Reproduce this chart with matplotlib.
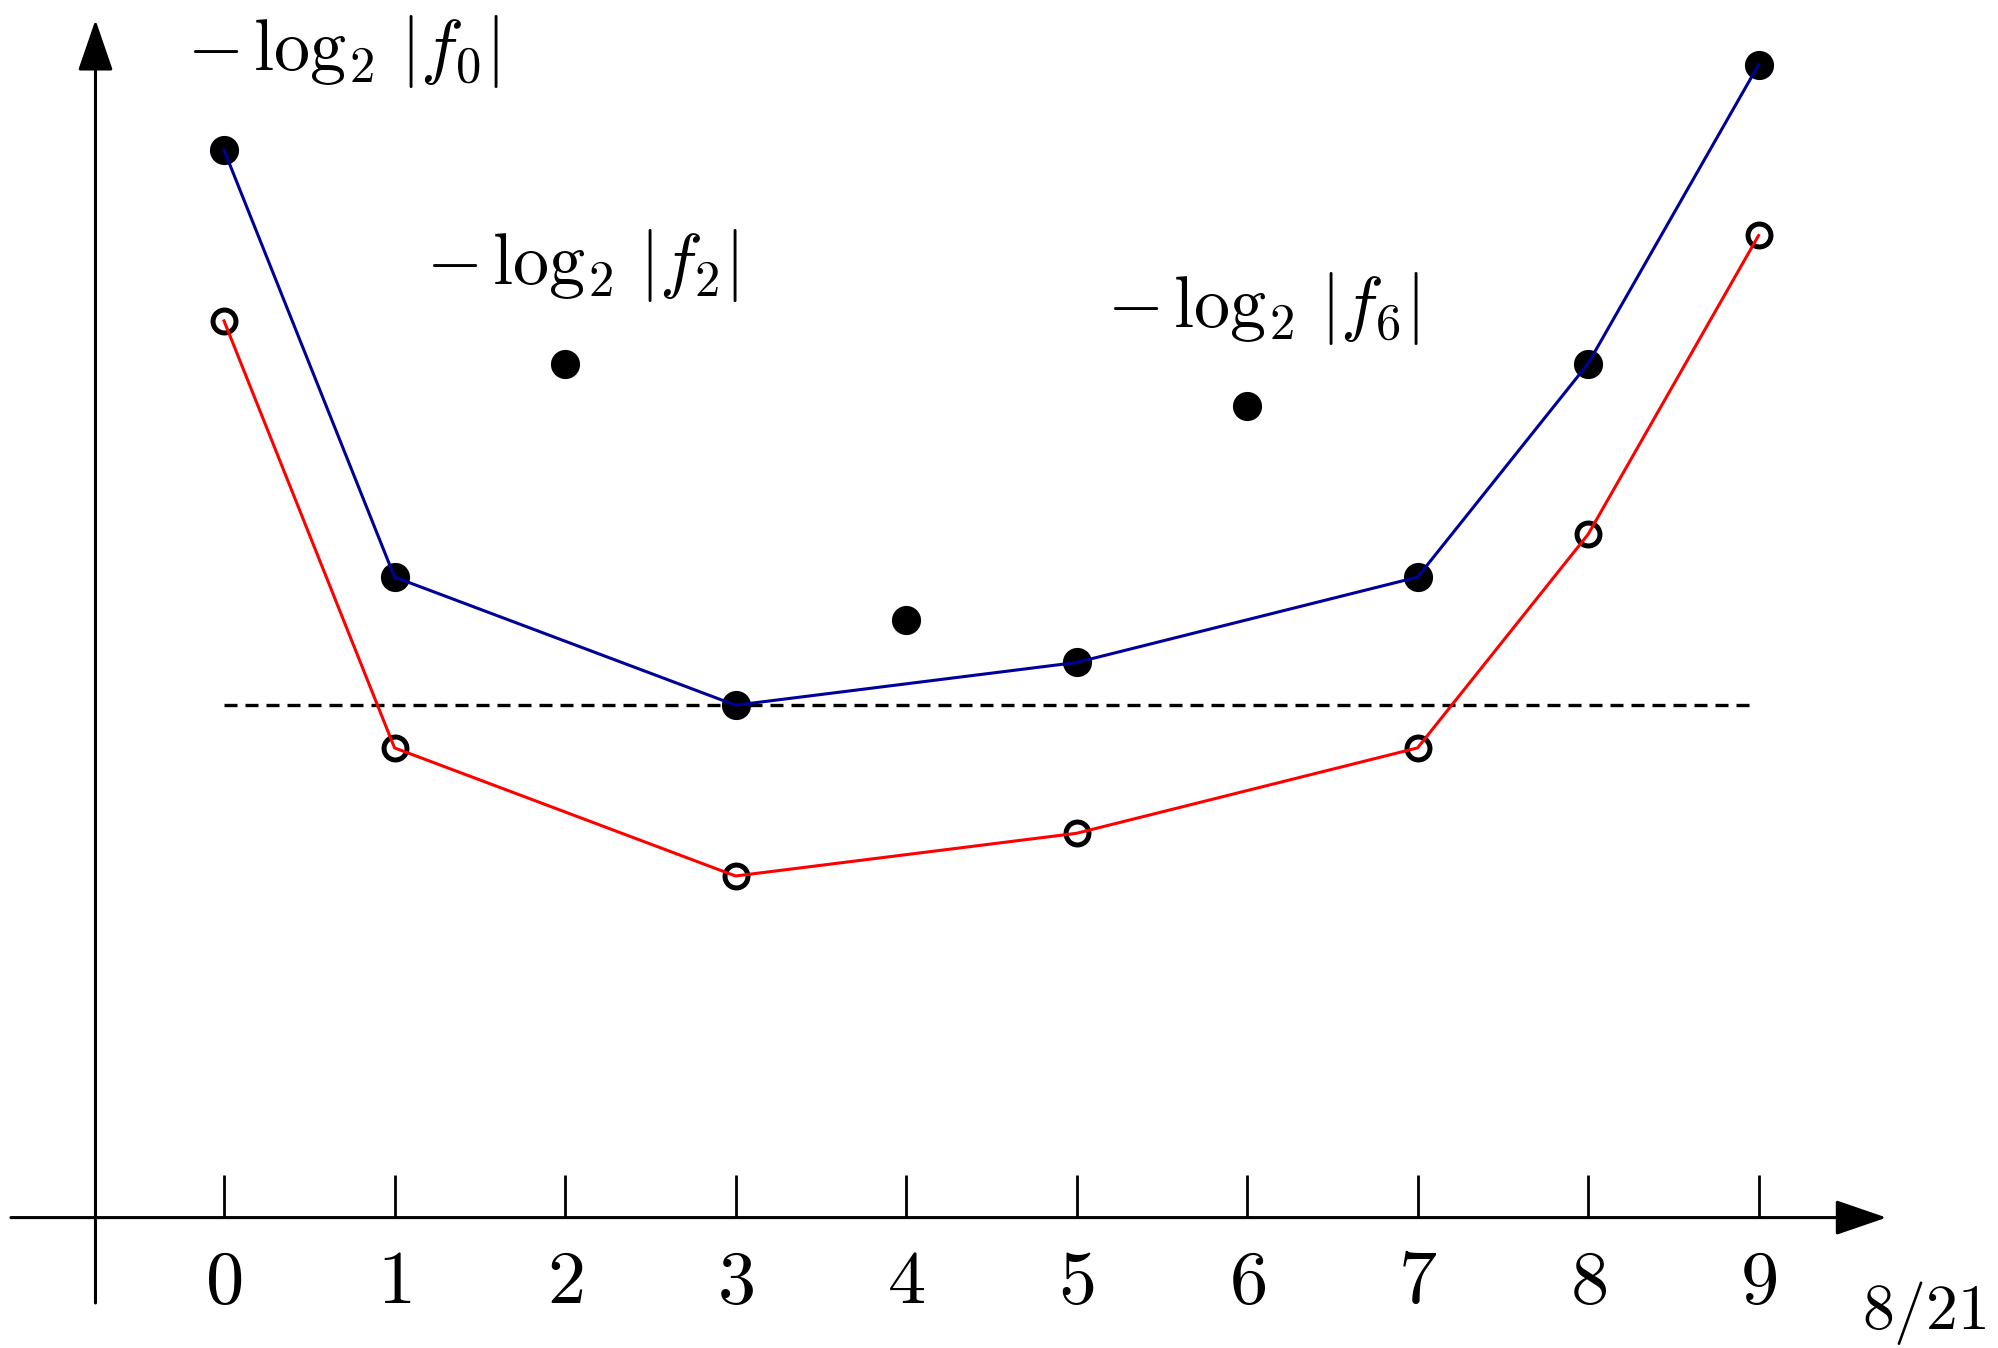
import matplotlib
matplotlib.use("Agg")
import matplotlib.pyplot as plt

plt.rcParams["mathtext.fontset"] = "cm"

# -log2|f_n| for n = 0..9 (filled dots)
n_values = list(range(10))
filled_values = [25, 15, 20, 12, 14, 13, 19, 15, 20, 27]

# indices joined by the blue line, and the open circles (4 lower) joined in red
path_n = [0, 1, 3, 5, 7, 8, 9]
blue_values = [25, 15, 12, 13, 15, 20, 27]
open_values = [21, 11, 8, 9, 11, 16, 23]

threshold = 12
tick_labels = [str(n) for n in n_values]

labels = [r"$-\,\log_2\,|f_0|$", r"$-\,\log_2\,|f_2|$", r"$-\,\log_2\,|f_6|$"]
label_pos = [(0.70, 27.3), (2.10, 22.3), (6.09, 21.3)]

fig = plt.figure(figsize=(19.99, 13.48), dpi=100)
ax = fig.add_axes([0, 0, 1, 1])
ax.set_xlim(-1.314, 10.41)
ax.set_ylim(-3.054, 28.515)
ax.axis("off")

black = "black"
axis_lw = 2.2
arrow = dict(arrowstyle="-|>,head_length=1.6,head_width=0.55", lw=axis_lw,
             color=black, mutation_scale=20, shrinkA=0, shrinkB=0)

#   axes with arrow heads
ax.annotate("", xy=(9.75, 0), xytext=(-1.25, 0), arrowprops=arrow)
ax.annotate("", xy=(-0.754, 28.05), xytext=(-0.754, -2.0), arrowprops=arrow)

#   ticks and tick labels
for n, lab in zip(n_values, tick_labels):
    ax.plot([n, n], [0, 1.0], color=black, lw=2.0, solid_capstyle="butt")
    ax.text(n, -1.5, "$%s$" % lab, ha="center", va="center", fontsize=55)

#   dashed threshold line
ax.plot([0, 8.95], [threshold, threshold], color=black, lw=2.4,
        dashes=(3.9, 2.4))

#   markers
ax.plot(n_values, filled_values, "o", color=black, ms=21, mec="none", zorder=3)
ax.plot(path_n, open_values, "o", mfc="white", mec=black, ms=16.5, mew=3.6,
        zorder=3)

#   lines on top of the markers
ax.plot(path_n, blue_values, color="#000099", lw=2.2, zorder=4)
ax.plot(path_n, open_values, color="red", lw=2.2, zorder=4)

for lab, (x, y) in zip(labels, label_pos):
    ax.text(x, y, lab, ha="center", va="center", fontsize=52)

ax.text(9.97, -2.24, "$8/21$", ha="center", va="center", fontsize=46)

plt.savefig("out.png", dpi=100)
